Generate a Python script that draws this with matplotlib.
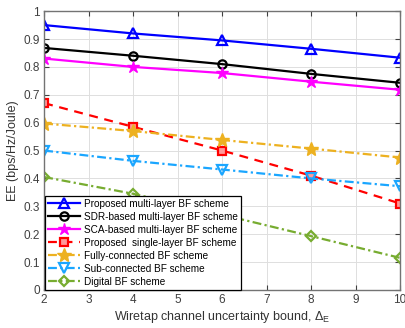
import matplotlib
matplotlib.use("Agg")
import matplotlib.pyplot as plt

plt.rcParams['font.family'] = ['Liberation Sans', 'DejaVu Sans']
plt.rcParams['mathtext.fontset'] = 'custom'
plt.rcParams['mathtext.rm'] = 'Liberation Sans'
plt.rcParams['mathtext.it'] = 'Liberation Sans'

x = [2, 4, 6, 8, 10]
proposed_multi = [0.950, 0.920, 0.895, 0.865, 0.833]
sdr_multi = [0.868, 0.840, 0.810, 0.775, 0.743]
sca_multi = [0.830, 0.800, 0.778, 0.747, 0.718]
proposed_single = [0.670, 0.585, 0.500, 0.410, 0.310]
fully_connected = [0.597, 0.570, 0.538, 0.507, 0.475]
sub_connected = [0.500, 0.463, 0.432, 0.400, 0.372]
digital = [0.405, 0.345, 0.270, 0.193, 0.115]

labels = ["Proposed multi-layer BF scheme",
          "SDR-based multi-layer BF scheme",
          "SCA-based multi-layer BF scheme",
          "Proposed  single-layer BF scheme",
          "Fully-connected BF scheme",
          "Sub-connected BF scheme",
          "Digital BF scheme"]

fig = plt.figure(figsize=(4.05, 3.28), dpi=100)
ax = fig.add_axes([0.109, 0.116, 0.879, 0.850])

orange = (0.929, 0.694, 0.125)
cyan = (0.10, 0.65, 1.0)
green = (0.466, 0.674, 0.188)
lw = 1.6
ax.plot(x, proposed_multi, color='blue', ls='-', lw=lw, marker='^', ms=6.5, mfc='none', mew=1.6, label=labels[0])
ax.plot(x, sdr_multi, color='black', ls='-', lw=lw, marker='o', ms=6, mfc='none', mew=1.6, label=labels[1])
ax.plot(x, sca_multi, color='magenta', ls='-', lw=lw, marker='*', ms=9, mfc='magenta', mew=1.0, label=labels[2])
ax.plot(x, proposed_single, color='red', ls=(0, (4, 3)), lw=lw, marker='s', ms=5.5, mfc=(1, 0.6, 0.6), mew=1.6, label=labels[3])
ax.plot(x, fully_connected, color=orange, ls=(0, (4, 1.5, 1, 1.5)), lw=lw, marker='*', ms=10, mfc=orange, mew=1.0, label=labels[4])
ax.plot(x, sub_connected, color=cyan, ls=(0, (4, 1.5, 1, 1.5)), lw=lw, marker='v', ms=6.5, mfc='none', mew=1.6, label=labels[5])
ax.plot(x, digital, color=green, ls=(0, (4, 1.5, 1, 1.5)), lw=lw, marker='D', ms=5.5, mfc='none', mew=1.6, label=labels[6])

ax.set_xlim(2, 10)
ax.set_ylim(0, 1)
ax.set_xticks(range(2, 11))
ax.set_yticks([i / 10 for i in range(11)])
ax.set_yticklabels(['0'] + [f'0.{i}' for i in range(1, 10)] + ['1'])
ax.grid(True, color=(0.87, 0.87, 0.87), lw=0.7)
ax.set_axisbelow(True)
ax.tick_params(direction='in', top=True, right=True, labelsize=8.5, colors=(0.25, 0.25, 0.25), length=3.5, pad=3)
for s in ax.spines.values():
    s.set_color((0.45, 0.45, 0.45))
    s.set_linewidth(1.0)

ax.set_xlabel(r'Wiretap channel uncertainty bound, $\Delta_E$', fontsize=9, color=(0.2, 0.2, 0.2), labelpad=2)
ax.set_ylabel('EE (bps/Hz/Joule)', fontsize=9, color=(0.2, 0.2, 0.2), labelpad=3)

leg = ax.legend(loc='lower left', bbox_to_anchor=(0.003, 0.0), fontsize=7.2, frameon=True, fancybox=False,
                edgecolor='black', framealpha=1, borderpad=0.3, labelspacing=0.3, handlelength=3.2,
                handletextpad=0.4, borderaxespad=0.0)
leg.get_frame().set_linewidth(0.9)

fig.savefig('out.png', dpi=100)
